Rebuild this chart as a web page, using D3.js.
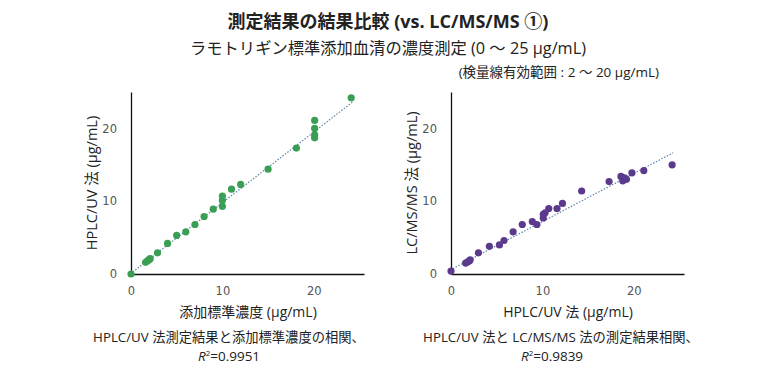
<!DOCTYPE html>
<html>
<head>
<meta charset="utf-8">
<script src="https://cdn.jsdelivr.net/npm/d3@7"></script>
<style>
  body { margin: 0; background: #fff; }
  svg { font-family: "Open Sans", "Noto Sans CJK JP", sans-serif; }
</style>
</head>
<body>
<svg id="chart" width="778" height="375"></svg>
<script>
// left panel: spiked standard (x) vs HPLC/UV result (y)
var spikeX = [0, 1.6, 1.8, 2.0, 2.1, 2.9, 4.0, 5.0, 6.0, 7.0, 8.0, 9.0, 10.0, 10.0, 10.0, 11.0, 12.0, 15.0, 18.1, 20.1, 20.1, 20.1, 20.1, 24.1];
var hplcY  = [0, 1.6, 1.8, 2.0, 2.1, 2.9, 4.2, 5.3, 5.8, 6.8, 7.9, 8.9, 9.3, 10.1, 10.7, 11.65, 12.3, 14.4, 17.3, 21.1, 20.0, 19.1, 18.7, 24.2];
var leftTrend = [0.97, 0.1];   // slope, intercept

// right panel: HPLC/UV (x) vs LC/MS/MS (y)
var hplcX = [0, 1.6, 1.8, 2.0, 2.1, 3.0, 4.2, 5.3, 5.8, 6.8, 7.8, 8.9, 9.4, 10.1, 10.1, 10.3, 10.7, 11.6, 12.2, 14.3, 17.3, 18.6, 18.8, 19.0, 19.2, 19.8, 21.1, 24.2];
var lcmsY = [0.4, 1.5, 1.65, 1.8, 1.95, 2.9, 3.8, 4.0, 4.6, 5.8, 6.8, 7.2, 6.8, 7.7, 8.2, 8.4, 9.0, 9.0, 9.7, 11.4, 12.7, 13.4, 12.8, 13.2, 13.0, 13.9, 14.2, 15.0];
var rightTrend = [0.66, 0.6];

var tickValues = [0, 10, 20];

var svg = d3.select("#chart");

svg.append("text").attr("x", 388).attr("y", 28).attr("text-anchor", "middle")
    .attr("font-size", 18).attr("font-weight", "bold").attr("fill", "#222")
    .text("測定結果の結果比較 (vs. LC/MS/MS ①)");
svg.append("text").attr("x", 388).attr("y", 54).attr("text-anchor", "middle")
    .attr("font-size", 16.3).attr("fill", "#222")
    .text("ラモトリギン標準添加血清の濃度測定 (0 ～ 25 µg/mL)");
svg.append("text").attr("x", 659).attr("y", 77).attr("text-anchor", "end")
    .attr("font-size", 13.5).attr("fill", "#222")
    .text("(検量線有効範囲 : 2 ～ 20 µg/mL)");

const drawPanel = (opt) => {
    var xScale = d3.scaleLinear().domain([0, 25.5]).range([opt.left, opt.left + 233]);
    var yScale = d3.scaleLinear().domain([0, 25]).range([274, 92]);

    var xAxis = svg.append("g")
        .attr("transform", "translate(0,274)")
        .call(d3.axisBottom(xScale).tickValues(tickValues).tickSize(0).tickSizeOuter(0).tickPadding(13));
    var yAxis = svg.append("g")
        .attr("transform", "translate(" + opt.left + ",0)")
        .call(d3.axisLeft(yScale).tickValues(tickValues).tickSize(0).tickSizeOuter(0).tickPadding(14));
    [xAxis, yAxis].forEach(function (a) {
        a.select(".domain").attr("stroke", "#111").attr("stroke-width", 1.3);
        a.selectAll("text").attr("font-size", 11.5).attr("fill", "#555")
            .attr("font-family", "\"DejaVu Sans\", sans-serif");
    });

    // dotted trend line
    var t = opt.trend;
    svg.append("line")
        .attr("x1", xScale(0.2)).attr("y1", yScale(t[0] * 0.2 + t[1]))
        .attr("x2", xScale(24.3)).attr("y2", yScale(t[0] * 24.3 + t[1]))
        .attr("stroke", "#5f84a8").attr("stroke-width", 1.2)
        .attr("stroke-dasharray", "1.5,1.6");

    svg.append("g").selectAll("circle")
        .data(opt.xs)
        .enter()
        .append("circle")
        .attr("cx", function (d) { return xScale(d); })
        .attr("cy", function (d, i) { return yScale(opt.ys[i]); })
        .attr("r", 3.6)
        .attr("fill", opt.color);

    svg.append("text")
        .attr("transform", "translate(" + (opt.left - 34) + ",183) rotate(-90)")
        .attr("text-anchor", "middle").attr("font-size", 14.5).attr("fill", "#222")
        .text(opt.yLabel);
    svg.append("text").attr("x", opt.left + 117).attr("y", 317)
        .attr("text-anchor", "middle").attr("font-size", 14).attr("fill", "#222")
        .text(opt.xLabel);

    svg.append("text").attr("x", opt.capX).attr("y", 342)
        .attr("text-anchor", "middle").attr("font-size", 13.3).attr("fill", "#222")
        .text(opt.caption);
    var r2 = svg.append("text").attr("x", opt.r2X).attr("y", 361)
        .attr("text-anchor", "middle").attr("font-size", 13.5).attr("fill", "#222");
    r2.append("tspan").attr("font-style", "italic").text("R");
    r2.append("tspan").attr("font-size", 8).attr("dy", -5).text("2");
    r2.append("tspan").attr("dy", 5).text("=" + opt.r2);
};

drawPanel({
    left: 131, xs: spikeX, ys: hplcY, trend: leftTrend, color: "#3a9f55",
    yLabel: "HPLC/UV 法 (µg/mL)", xLabel: "添加標準濃度 (µg/mL)",
    caption: "HPLC/UV 法測定結果と添加標準濃度の相関、", capX: 229,
    r2: "0.9951", r2X: 229
});
drawPanel({
    left: 451, xs: hplcX, ys: lcmsY, trend: rightTrend, color: "#5b3a8e",
    yLabel: "LC/MS/MS 法 (µg/mL)", xLabel: "HPLC/UV 法 (µg/mL)",
    caption: "HPLC/UV 法と LC/MS/MS 法の測定結果相関、", capX: 561,
    r2: "0.9839", r2X: 552
});
</script>
</body>
</html>
